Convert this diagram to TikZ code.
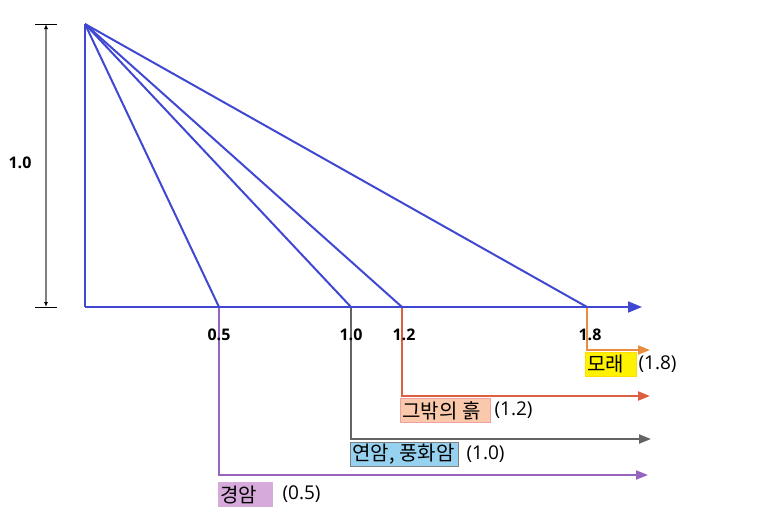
\documentclass[tikz,border=0pt]{standalone}
\usepackage{fontspec}
\setmainfont{Open Sans}
\newfontfamily\kr{Noto Sans CJK KR}
\usetikzlibrary{arrows.meta}

\definecolor{lineblue}{RGB}{64,72,210}
\definecolor{sandline}{RGB}{232,140,64}
\definecolor{soilline}{RGB}{220,96,64}
\definecolor{rockline}{RGB}{100,100,100}
\definecolor{hardline}{RGB}{150,100,190}

\begin{document}
\begin{tikzpicture}[x=1pt,y=-1pt,
  blue line/.style={draw=lineblue,line width=2pt},
  leg/.style={line width=2pt,-{Triangle[length=12pt,width=9pt]}},
  tick/.style={font=\fontsize{16}{18}\selectfont\bfseries},
  tag/.style={anchor=north west,draw,line width=1pt,inner xsep=2pt,inner ysep=0pt,
    minimum height=24pt,font=\kr\fontsize{20}{22}\selectfont},
  val/.style={anchor=west,font=\fontsize{19}{21}\selectfont}]
\useasboundingbox (0,0) rectangle (766,509);

% apex and base points
\coordinate (top) at (85,24);
\coordinate (o) at (85,307);
\coordinate (b05) at (219,307);
\coordinate (b10) at (351,307);
\coordinate (b12) at (402,307);
\coordinate (b18) at (587,307);
\coordinate (xend) at (642,307);

% height bar
\coordinate (h1) at (46,24);
\coordinate (h0) at (46,307);
\draw[black] (35,24) -- (57,24);
\draw[black] (35,307) -- (57,307);
\draw[gray,line width=1.4pt,{Latex[black,length=5pt,width=4pt]}-{Latex[black,length=5pt,width=4pt]}] (h1) -- (h0);
\node[font=\fontsize{16}{18}\selectfont\bfseries] (hlab) at (20,163) {1.0};

% legs to the classes
\coordinate (e18) at (650,350);
\coordinate (e12) at (650,396);
\coordinate (e10) at (651,439);
\coordinate (e05) at (648,475);
\draw[leg,sandline] (b18) |- (e18);
\draw[leg,soilline] (b12) |- (e12);
\draw[leg,rockline] (b10) |- (e10);
\draw[leg,hardline] (b05) |- (e05);

% slopes
\draw[blue line] (top) -- (o);
\draw[blue line] (top) -- (b05);
\draw[blue line] (top) -- (b10);
\draw[blue line] (top) -- (b12);
\draw[blue line] (top) -- (b18);
\draw[blue line,-{Triangle[length=14pt,width=11pt]}] (o) -- (xend);

% scale
\node[tick] (t05) at (219,335) {0.5};
\node[tick] (t10) at (351,335) {1.0};
\node[tick] (t12) at (404,335) {1.2};
\node[tick] (t18) at (590,335) {1.8};

% classes
\node[tag,fill=yellow,draw=yellow!80!orange] (sand) at (585,352) {\makebox[47pt][l]{모래}};
\node[val] (v18) at ([xshift=-2pt]sand.east) {(1.8)};
\node[tag,fill={rgb,255:red,250;green,200;blue,170},draw={rgb,255:red,240;green,160;blue,160}] (soil) at (400,398) {\makebox[86pt][l]{그밖의 흙}};
\node[val] (v12) at (soil.east) {(1.2)};
\node[tag,fill={rgb,255:red,150;green,210;blue,240},draw=gray] (rock) at (350,442) {\makebox[104pt][l]{연암, 풍화암}};
\node[val] (v10) at ([xshift=4pt]rock.east) {(1.0)};
\node[tag,fill={rgb,255:red,215;green,170;blue,220},draw={rgb,255:red,215;green,170;blue,220}] (hard) at (218,482) {\makebox[50pt][l]{경암}};
\node[val] (v05) at ([xshift=6pt]hard.east) {(0.5)};
\end{tikzpicture}
\end{document}
